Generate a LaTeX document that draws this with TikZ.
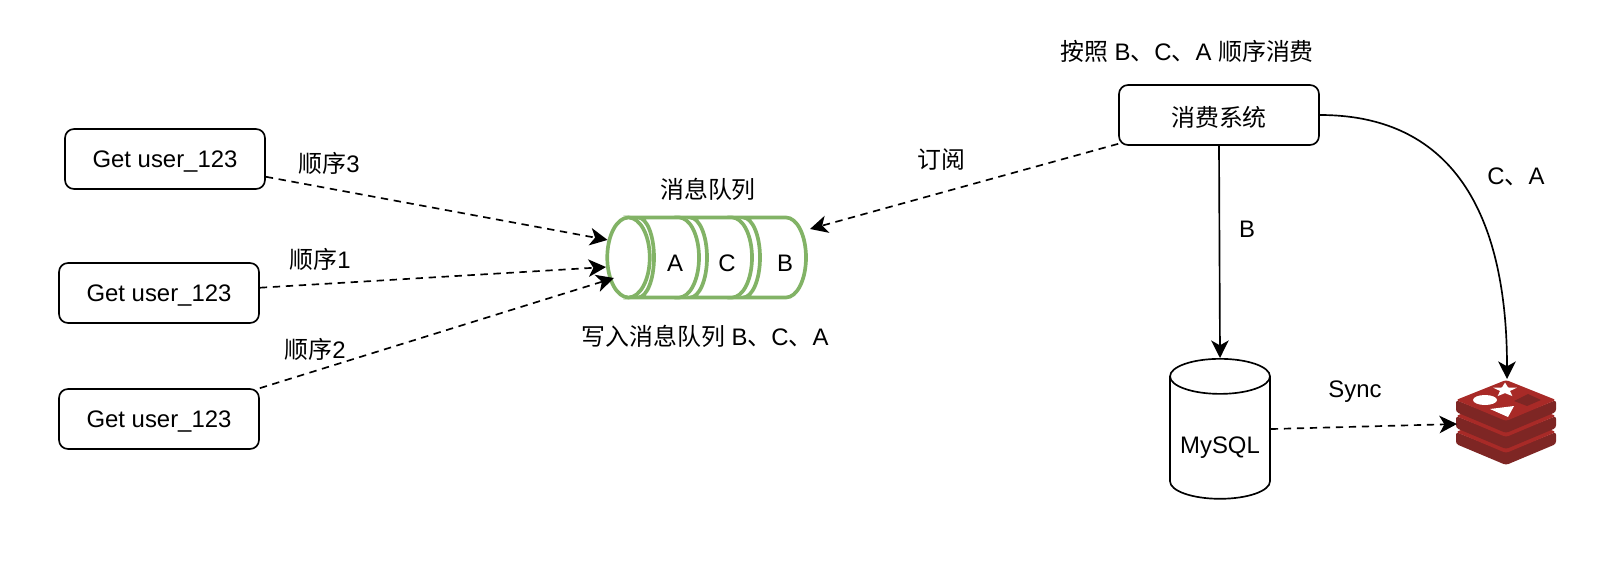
\documentclass[tikz,border=0pt]{standalone}
\usepackage{fontspec}
\setmainfont{Liberation Sans}
\newfontfamily\cjk{Noto Sans CJK SC}
\newcommand{\zh}[1]{{\cjk #1}}
\usepackage{xcolor}
\usetikzlibrary{arrows.meta,positioning,shapes.geometric}
\definecolor{queuegreen}{HTML}{82B366}
\definecolor{redislight}{HTML}{A82A27}
\definecolor{redisdark}{HTML}{7E2624}
\tikzset{%
	userbox/.style  = {draw, rectangle, rounded corners=0.18cm, line width=0.95pt, minimum width=4cm, minimum height=1.2cm, text centered},
	dbstore/.style  = {draw, cylinder, shape border rotate=90, shape aspect=0.44, line width=0.95pt, minimum width=2cm, minimum height=2.8cm, inner sep=0pt, text height=21pt},
	queuehead/.style= {draw=queuegreen, ellipse, line width=2.1pt, fill=white, minimum width=0.85cm, minimum height=1.6cm, inner sep=0pt},
	arrow/.style    = {line width=0.95pt, -{Stealth[length=10pt,width=10pt,inset=2.8pt]}},
	dasharrow/.style= {arrow, dash pattern=on 4.2pt off 3.2pt},
	every node/.style = {font=\fontsize{13.6}{16}\selectfont, text height=13pt, text depth=2.8pt},
}
\begin{document}
\begin{tikzpicture}[x=0.02cm,y=0.02cm]
	\useasboundingbox (0,0) rectangle (1622,566);
	% producers
	\node[userbox] (user3) at (165,407) {Get user\_123};
	\node[userbox] (user1) at (159,273) {Get user\_123};
	\node[userbox] (user2) at (159,147) {Get user\_123};
	\node (order3) at (329,402) {\zh{顺序}3};
	\node (order1) at (320,306) {\zh{顺序}1};
	\node (order2) at (315,216) {\zh{顺序}2};
	% queue
	\foreach \xa/\xb/\xl/\name/\lx in {743/786/17/B/785,690/732/17/C/727,638/679/16/A/675}{
		\draw[queuegreen,line width=2.1pt,fill=white] (\xa,348.5) -- (\xb,348.5)
			arc[start angle=90,end angle=-90,x radius=20,y radius=40] -- (\xa,268.5)
			arc[start angle=-90,end angle=90,x radius=\xl,y radius=40] -- cycle;
		\node (msg\name) at (\lx,303) {\name};
	}
	\node[queuehead] (queue) at (628.5,308.5) {};
	\coordinate (queueB) at (810,337);
	\coordinate (queuelow) at (614,288);
	\node (queuetitle) at (708,376) {\zh{消息队列}};
	\node (writeorder) at (705,229) {\zh{写入消息队列} B\zh{、}C\zh{、}A};
	% consumer and stores
	\node[userbox,text height=16.4pt] (consumer) at (1219,451) {\zh{消费系统}};
	\node (readorder) at (1187,514) {\zh{按照} B\zh{、}C\zh{、}A \zh{顺序消费}};
	\node (subscribe) at (941,406) {\zh{订阅}};
	\node[dbstore] (mysql) at (1220,128) {MySQL};
	\node (labelB) at (1247,337) {B};
	\node (labelCA) at (1516,390) {C\zh{、}A};
	\node (sync) at (1355,177) {Sync};
	% redis logo
	\foreach \yo in {32,16,0}{
		\fill[redisdark,rounded corners=1.5pt] (1456,166-\yo) -- (1506,146-\yo) -- (1556,166-\yo) -- (1556,154-\yo) -- (1506,133-\yo) -- (1456,154-\yo) -- cycle;
		\fill[redislight,rounded corners=1.5pt] (1456,166-\yo) -- (1506,186-\yo) -- (1556,166-\yo) -- (1506,145-\yo) -- cycle;
	}
	\fill[white] (1485,166) ellipse (12 and 5);
	\node[star,star point ratio=2.4,fill=white,minimum size=0.5cm,inner sep=0pt,yscale=0.6,text height=0pt,text depth=0pt] (redisstar) at (1505,176) {};
	\fill[white] (1490,157) -- (1514,160) -- (1508,149) -- cycle;
	\fill[redisdark] (1514,165) -- (1528,172) -- (1541,166) -- (1527,160) -- cycle;
	\coordinate (redistop) at (1507,187);
	\coordinate (redisleft) at (1457,142);
	% connectors
	\draw[dasharrow] (user3.-10) -- (queue.140);
	\draw[dasharrow] (user1.3) -- (queue.203);
	\draw[dasharrow] (user2.17.3) -- (queuelow);
	\draw[dasharrow] (consumer.south west) ++(0,2) -- (queueB);
	\draw[arrow] (consumer.south) -- (mysql.top);
	\draw[arrow] (consumer.east) to[out=0,in=90,looseness=1.15] (redistop);
	\draw[dasharrow] (mysql.10) -- (redisleft);
\end{tikzpicture}
\end{document}
